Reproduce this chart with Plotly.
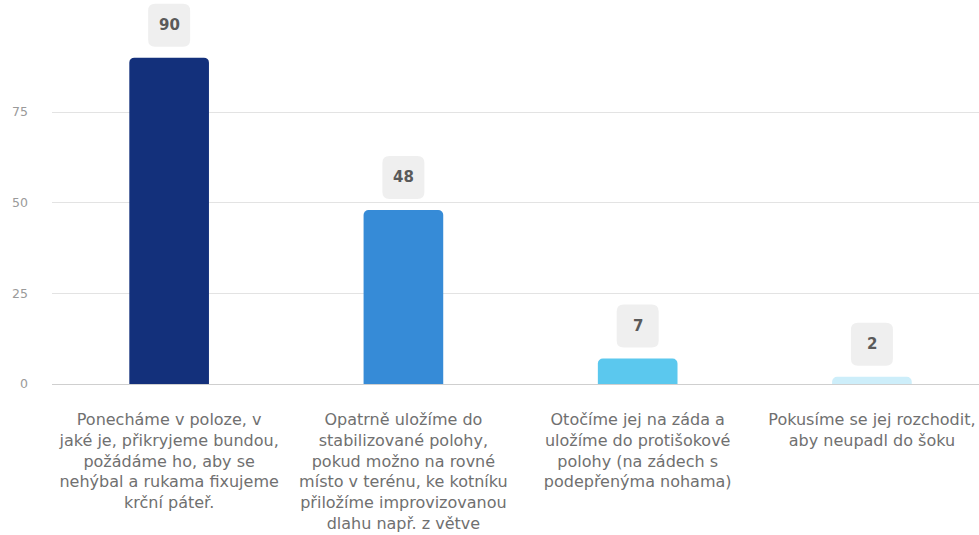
import plotly.graph_objects as go

# Survey answers (Czech first-aid question) and number of respondents
categories = [
    "Ponecháme v poloze, v<br>jaké je, přikryjeme bundou,<br>požádáme ho, aby se<br>nehýbal a rukama fixujeme<br>krční páteř.",
    "Opatrně uložíme do<br>stabilizované polohy,<br>pokud možno na rovné<br>místo v terénu, ke kotníku<br>přiložíme improvizovanou<br>dlahu např. z větve",
    "Otočíme jej na záda a<br>uložíme do protišokové<br>polohy (na zádech s<br>podepřenýma nohama)",
    "Pokusíme se jej rozchodit,<br>aby neupadl do šoku",
]
counts = [90, 48, 7, 2]
bar_colors = ["#13307b", "#368bd7", "#5bc8ee", "#cdeefa"]
y_ticks = [0, 25, 50, 75]

FONT = "DejaVu Sans, Verdana, sans-serif"
x_pos = list(range(len(counts)))

fig = go.Figure()
fig.add_trace(go.Bar(
    x=x_pos,
    y=counts,
    width=0.34,
    marker=dict(color=bar_colors, line=dict(width=0), cornerradius=5),
    hoverinfo="skip",
))


def rounded_box(w, h, r, gap):
    """Rounded rectangle in pixel offsets, sitting `gap` px above the anchor."""
    x0, x1 = -w / 2, w / 2
    y0, y1 = gap, gap + h
    return (
        f"M {x0 + r},{y0} L {x1 - r},{y0} Q {x1},{y0} {x1},{y0 + r} "
        f"L {x1},{y1 - r} Q {x1},{y1} {x1 - r},{y1} "
        f"L {x0 + r},{y1} Q {x0},{y1} {x0},{y1 - r} "
        f"L {x0},{y0 + r} Q {x0},{y0} {x0 + r},{y0} Z"
    )


box_w, box_h, box_gap = 42, 43, 11
for xi, v in zip(x_pos, counts):
    fig.add_shape(
        type="path",
        xref="x", yref="y",
        xsizemode="pixel", ysizemode="pixel",
        xanchor=xi, yanchor=v,
        path=rounded_box(box_w, box_h, 7, box_gap),
        fillcolor="#efefef",
        line=dict(width=0),
        layer="above",
    )
    fig.add_annotation(
        x=xi, y=v,
        text=str(v),
        showarrow=False,
        yanchor="middle",
        yshift=box_gap + box_h / 2,
        font=dict(family=FONT, size=15, color="#5a5a5a", weight="bold"),
    )

fig.update_layout(
    width=979,
    height=535,
    margin=dict(l=52, r=0, t=0, b=151),
    paper_bgcolor="white",
    plot_bgcolor="white",
    showlegend=False,
    font=dict(family=FONT),
    xaxis=dict(
        tickmode="array",
        tickvals=x_pos,
        ticktext=categories,
        range=[-0.5, 3.457],
        showgrid=False,
        zeroline=False,
        showline=False,
        ticks="",
        ticklabelstandoff=24,
        tickfont=dict(family=FONT, size=16, color="#707070"),
        fixedrange=True,
    ),
    yaxis=dict(
        range=[0, 105.9],
        tickmode="array",
        tickvals=y_ticks,
        showgrid=True,
        gridcolor="#e3e3e3",
        gridwidth=1,
        zeroline=True,
        zerolinecolor="#cfcfcf",
        zerolinewidth=1,
        showline=False,
        ticks="",
        ticklabelstandoff=23,
        tickfont=dict(family=FONT, size=12.5, color="#9a9a9a"),
        fixedrange=True,
    ),
)

fig.write_html("out.html")
